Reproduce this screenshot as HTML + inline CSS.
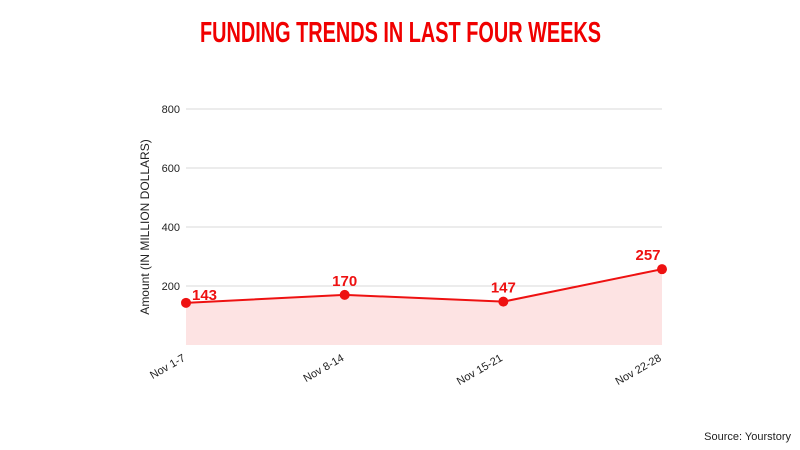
<!DOCTYPE html>
<html><head><meta charset="utf-8">
<style>
html,body{margin:0;padding:0;background:#fff;}
svg{display:block;font-family:"Liberation Sans",Arial,sans-serif;}
</style></head>
<body>
<svg id="chart" width="800" height="450" viewBox="0 0 800 450" xmlns="http://www.w3.org/2000/svg">
  <text x="200" y="42" font-size="29" font-weight="bold" fill="#f00000" textLength="401" lengthAdjust="spacingAndGlyphs">FUNDING TRENDS IN LAST FOUR WEEKS</text>
  <g id="grid"></g>
  <g id="yticks"></g>
  <g id="series"></g>
  <g id="xticks"></g>
  <text transform="translate(149,227) rotate(-90)" text-anchor="middle" font-size="12" fill="#222">Amount (IN MILLION DOLLARS)</text>
  <text x="791" y="440" text-anchor="end" font-size="11" fill="#222">Source: Yourstory</text>
</svg>
<script>
const categories = ["Nov 1-7","Nov 8-14","Nov 15-21","Nov 22-28"];
const values = [143,170,147,257];
const yTicks = [200,400,600,800];
const yMax = 800;

const NS="http://www.w3.org/2000/svg";
const L=186,R=662,T=109,B=345;
function xs(i){return L+(R-L)*i/(categories.length-1);}
function ys(v){return B-(B-T)*v/yMax;}
function mk(tag,attrs,parent){const e=document.createElementNS(NS,tag);for(const k in attrs)e.setAttribute(k,attrs[k]);parent.appendChild(e);return e;}

const grid=document.getElementById('grid'),yt=document.getElementById('yticks'),ser=document.getElementById('series'),xt=document.getElementById('xticks');
yTicks.forEach(t=>{
  const ln=mk('line',{x1:L,x2:R,y1:ys(t),y2:ys(t),stroke:'#d9d9d9','stroke-width':1},grid);
  
  
  const tx=mk('text',{x:180,y:ys(t)+4,'text-anchor':'end','font-size':11,fill:'#222'},yt);
  tx.textContent=t;
  
  
});
let pts=values.map((v,i)=>xs(i)+','+ys(v)).join(' ');
const area=mk('polygon',{points:L+','+B+' '+pts+' '+R+','+B,fill:'#fde3e3'},ser);


const line=mk('polyline',{points:pts,fill:'none',stroke:'#ee1111','stroke-width':2},ser);


values.forEach((v,i)=>{
  const c=mk('circle',{cx:xs(i),cy:ys(v),r:5,fill:'#ee1111'},ser);
  
  
  let lx=xs(i),anchor='middle';
  if(i===0){lx=xs(i)+6;anchor='start';}
  if(i===values.length-1){lx=xs(i)-14;}
  const lb=mk('text',{x:lx,y:ys(v)-(i===0?3:9),'text-anchor':anchor,'font-size':15,'font-weight':'bold',fill:'#ee1111'},ser);
  lb.textContent=v;
  
  
});
categories.forEach((c,i)=>{
  const tx=mk('text',{transform:'translate('+xs(i)+','+(B+15)+') rotate(-30)','text-anchor':'end','font-size':11,fill:'#222'},xt);
  tx.textContent=c;
  
  
});
</script>
</body></html>
